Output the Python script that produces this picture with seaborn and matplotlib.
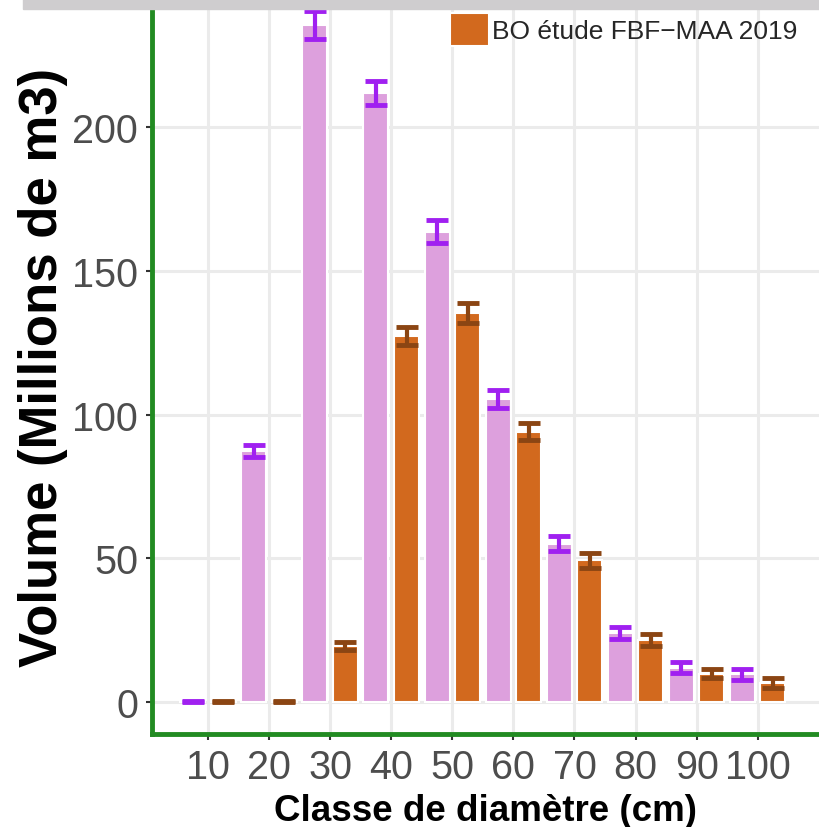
import matplotlib
matplotlib.use('Agg')
from matplotlib import pyplot as plt
from matplotlib.patches import Rectangle
import seaborn as sns
import pandas as pd

# DONNEES (millions de m3)
classes = ['10', '20', '30', '40', '50', '60', '70', '80', '90', '100']
series = ['IFN', 'BO étude FBF\u2212MAA 2019']
vol_ifn = [0.3, 87.3, 235.5, 211.8, 163.5, 105.4, 55.0, 24.0, 12.0, 9.6]
err_ifn = [0.2, 2.0, 5.0, 4.2, 4.0, 3.3, 2.6, 2.0, 1.9, 1.9]
vol_bo = [0.3, 0.3, 19.5, 127.3, 135.3, 94.0, 49.4, 21.6, 9.9, 6.6]
err_bo = [0.2, 0.2, 1.5, 3.0, 3.5, 3.0, 2.6, 2.0, 1.6, 1.7]

df = pd.DataFrame({
    'classe': classes * 2,
    'source': [series[0]] * len(classes) + [series[1]] * len(classes),
    'volume': vol_ifn + vol_bo,
})

palette = {series[0]: '#DDA0DD', series[1]: '#D2691E'}
err_colors = ['#A020F0', '#8B4513']

sns.set_style('white')
plt.rcParams['font.family'] = ['Liberation Sans', 'DejaVu Sans']

fig = plt.figure(figsize=(8.2, 8.28), dpi=100)
ax = fig.add_axes([152 / 820, 93 / 828, 668 / 820, 735 / 828])

sns.barplot(data=df, x='classe', y='volume', hue='source', order=classes,
            hue_order=series, palette=palette, saturation=1, width=1.0,
            gap=0.18, edgecolor='white', linewidth=1.5, errorbar=None, ax=ax,
            legend=False)

# BARRES D'ERREUR A PARTIR DES BARRES DESSINEES
for cont, errs, col in zip(ax.containers, [err_ifn, err_bo], err_colors):
    xs = [p.get_x() + p.get_width() / 2 for p in cont.patches]
    hs = [p.get_height() for p in cont.patches]
    ax.errorbar(xs, hs, yerr=errs, fmt='none', ecolor=col, elinewidth=3,
                capsize=8, capthick=3.5, zorder=4)

ax.set_xlim(-0.917, 10.02)
ax.set_ylim(-11.1, 244.5)
ax.set_yticks([0, 50, 100, 150, 200])

ax.set_axisbelow(True)
ax.grid(True, color='#EBEBEB', linewidth=2.2)

for s in ['top', 'right']:
    ax.spines[s].set_visible(False)
for s in ['left', 'bottom']:
    ax.spines[s].set_color('#228B22')
    ax.spines[s].set_linewidth(3.5)

ax.tick_params(axis='both', which='major', labelsize=28.5, labelcolor='#4D4D4D',
               color='#333333', length=4, width=1.5, direction='out')
ax.tick_params(axis='y', pad=6)
ax.tick_params(axis='x', pad=6)
ax.tick_params(left=True, bottom=True)

ax.set_xlabel('Classe de diamètre (cm)', fontsize=26.5, fontweight='bold',
              color='black', labelpad=5)
ax.set_ylabel('Volume (Millions de m3)', fontsize=38, fontweight='bold',
              color='black', labelpad=3)

# LEGENDE (SEULE L'ENTREE BO EST VISIBLE)
ax.legend(handles=[ax.containers[1].patches[0]], labels=[series[1]],
          loc='upper left', bbox_to_anchor=(450 / 820, 1 - 14 / 828),
          bbox_transform=fig.transFigure, frameon=False, fontsize=19,
          handlelength=1.48, handleheight=1.55, handletextpad=0.12,
          borderpad=0, borderaxespad=0)

fig.patches.append(Rectangle((23 / 820, 1 - 10 / 828), 797 / 820, 10 / 828,
                             transform=fig.transFigure, color='#CFCDCF',
                             zorder=10))

fig.savefig('out.png', dpi=100)
